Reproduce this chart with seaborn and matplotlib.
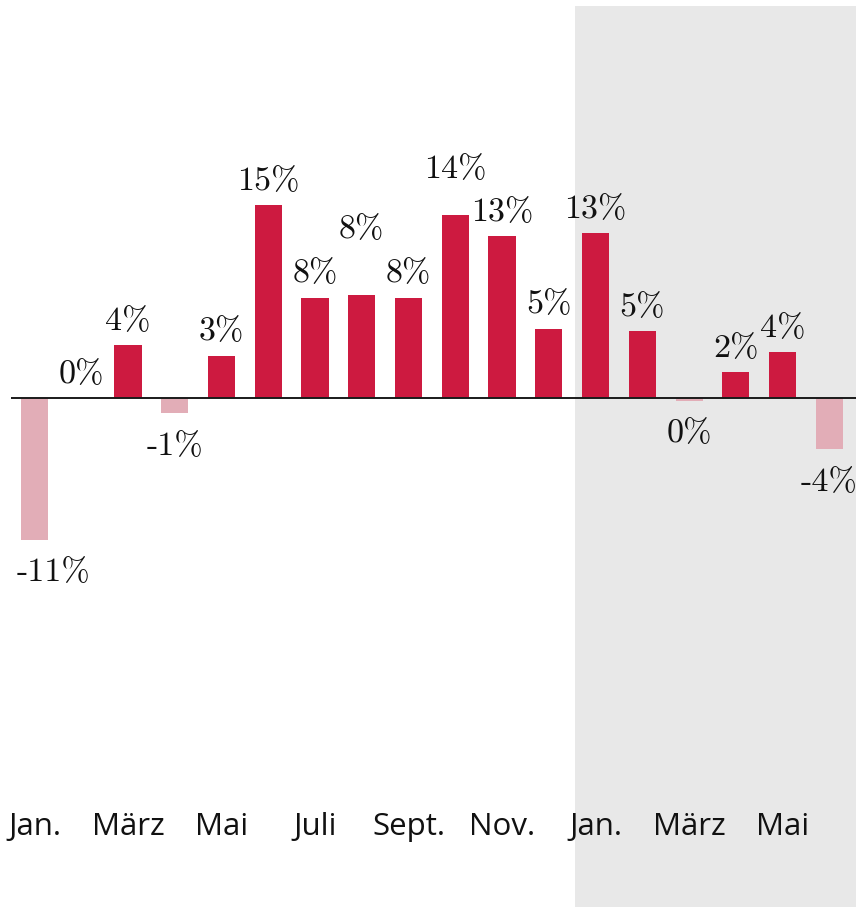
import os
import numpy as np
import pandas as pd
import matplotlib
matplotlib.use("Agg")
import matplotlib.pyplot as plt
from matplotlib.font_manager import FontProperties
import seaborn as sns

# Monthly change in percent, January of year one through June of year two
months = ["Jan.", "Feb.", "März", "Apr.", "Mai", "Juni", "Juli", "Aug.", "Sept.",
          "Okt.", "Nov.", "Dez.", "Jan.", "Feb.", "März", "Apr.", "Mai", "Juni"]
changes = [-11.0, 0.0, 4.1, -1.2, 3.3, 15.0, 7.8, 8.0, 7.8,
           14.2, 12.6, 5.4, 12.8, 5.2, -0.2, 2.0, 3.6, -4.0]
year_two_start = 12

POS_COLOR = "#CD1A40"
NEG_COLOR = "#E2ADB7"
SHADE = "#E8E8E8"

df = pd.DataFrame({
    "idx": np.arange(len(months)),
    "month": months,
    "change": changes,
})
df["direction"] = np.where(df["change"] >= 0, "up", "down")

sns.set_theme(style="white")
plt.rcParams["font.family"] = ["Open Sans", "DejaVu Sans"]

label_font = FontProperties(
    fname=os.path.join(matplotlib.get_data_path(), "fonts", "ttf", "cmr10.ttf"),
    size=24.5)

W, H = 856, 907
fig = plt.figure(figsize=(W / 100, H / 100), dpi=100)
fig.patch.set_facecolor("white")

ax_left, ax_top, ax_bottom = 10.7, 6, 790
ax = fig.add_axes([ax_left / W, (H - ax_bottom) / H,
                   (W - ax_left) / W, (ax_bottom - ax_top) / H])
ax.set_facecolor("none")

sns.barplot(data=df, x="idx", y="change", hue="direction",
            palette={"up": POS_COLOR, "down": NEG_COLOR},
            dodge=False, width=0.58, errorbar=None, legend=False,
            saturation=1, linewidth=0, edgecolor="none", ax=ax, zorder=2)

ax.set_xlim(-0.509, 17.57)
ax.set_ylim(-30.46, 30.46)

# shaded second year, running down behind the month labels
ax.axvspan(year_two_start - 0.45, 18, ymin=-(H - ax_bottom) / (ax_bottom - ax_top),
           ymax=1, color=SHADE, zorder=0, clip_on=False, lw=0)
ax.axhline(0, color="#1a1a1a", lw=1.4, zorder=3)

# value labels; a few are nudged to stay clear of neighbours
nudge = {0: (14, 0), 7: (0, 30), 9: (0, 16)}
for i, v in zip(df["idx"], df["change"]):
    n = int(round(v))
    dx, dy = nudge.get(i, (0, 0))
    base = 17 if v >= 0 else -24
    ax.annotate(f"{n}%", xy=(i, v), xytext=(dx, base + dy),
                textcoords="offset points", ha="center", va="center",
                fontproperties=label_font, color="#111111",
                annotation_clip=False, zorder=4)

ax.set_xticks(df["idx"][::2])
ax.set_xticklabels(df["month"][::2], fontsize=22.5, fontweight="medium",
                   color="#111111")
ax.tick_params(axis="x", length=0, pad=16)
ax.set_yticks([])
ax.set_xlabel("")
ax.set_ylabel("")
for s in ax.spines.values():
    s.set_visible(False)

fig.savefig("out.png", dpi=100, facecolor="white")
